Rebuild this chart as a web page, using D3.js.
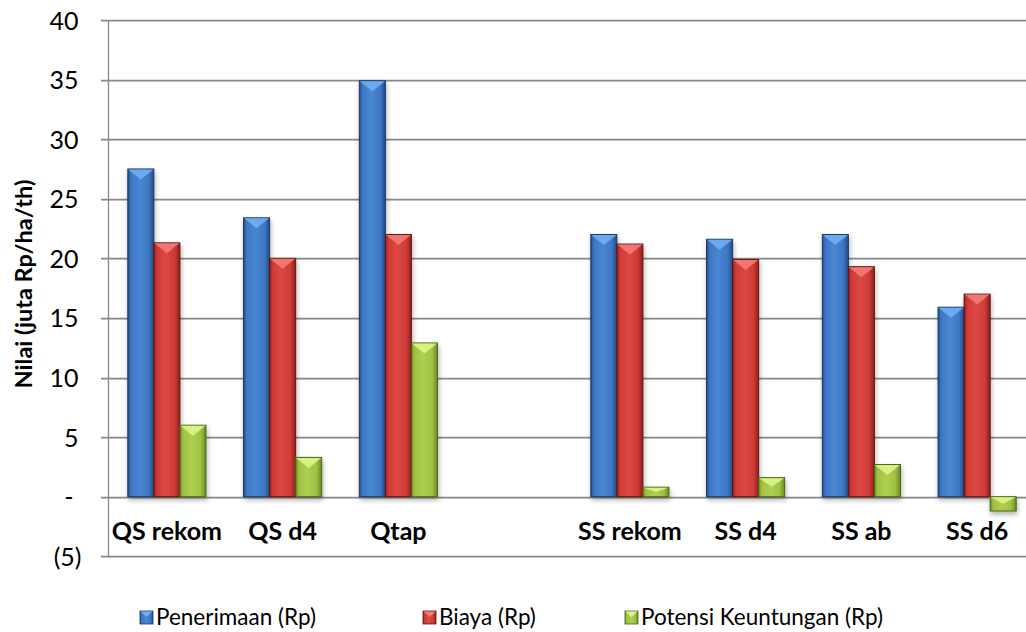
<!DOCTYPE html>
<html>
<head>
<meta charset="utf-8">
<script src="https://cdn.jsdelivr.net/npm/d3@7/dist/d3.min.js"></script>
<style>
  html, body { margin: 0; padding: 0; background: #fff; }
  svg { display: block; font-family: Lato, "Open Sans", sans-serif; }
</style>
</head>
<body>
<svg id="chart" width="1026" height="632"></svg>
<script>
// Nilai per perlakuan (juta Rp/ha/th); the empty slot separates QS and SS groups
const categories = ["QS rekom", "QS d4", "Qtap", "", "SS rekom", "SS d4", "SS ab", "SS d6"];
const penerimaan = [27.5, 23.4, 34.9, null, 22.0, 21.6, 22.0, 15.9];
const biaya      = [21.3, 20.0, 22.0, null, 21.2, 19.9, 19.3, 17.0];
const keuntungan = [6.0, 3.3, 12.9, null, 0.8, 1.6, 2.7, -1.2];
const seriesNames = ["Penerimaan (Rp)", "Biaya (Rp)", "Potensi Keuntungan (Rp)"];
const yTicks = [-5, 0, 5, 10, 15, 20, 25, 30, 35, 40];
const yTitle = "Nilai (juta Rp/ha/th)";

const seriesValues = [penerimaan, biaya, keuntungan];
const palette = [
  { edge: "#234c86", mid: "#4a86d1", light: "#3d78c4", cap: "#6fb0f4", stroke: "#1b3760" },
  { edge: "#8f1f1d", mid: "#dc4843", light: "#cf3b37", cap: "#f47a76", stroke: "#5e1412" },
  { edge: "#6a8a22", mid: "#b0cf52", light: "#9fc143", cap: "#dcf58a", stroke: "#4c6414" }
];

const svg = d3.select("#chart");
const defs = svg.append("defs");

palette.forEach((p, i) => {
  const g = defs.append("linearGradient").attr("id", "bar" + i)
    .attr("x1", "0%").attr("x2", "100%").attr("y1", "0%").attr("y2", "0%");
  [[0, p.edge], [0.12, p.light], [0.45, p.mid], [0.8, p.light], [1, p.edge]]
    .forEach(([o, c]) => g.append("stop").attr("offset", o).attr("stop-color", c));
});

const shadow = defs.append("filter").attr("id", "shadow")
  .attr("x", "-20%").attr("y", "-5%").attr("width", "140%").attr("height", "115%");
shadow.append("feDropShadow").attr("dx", 1).attr("dy", 3)
  .attr("stdDeviation", 2.5).attr("flood-color", "#000").attr("flood-opacity", 0.3);

const left = 109, right = 1035;
const x = d3.scaleBand().domain(categories.map((c, i) => i)).range([left, right]).padding(0);
const groupW = x.bandwidth() * 0.675;
const xs = d3.scaleBand().domain([0, 1, 2])
  .range([(x.bandwidth() - groupW) / 2, (x.bandwidth() + groupW) / 2]).padding(0);
const y = d3.scaleLinear().domain([-5, 40]).range([556.3, 20]);

// gridlines
const grid = svg.append("g");
grid.selectAll("line.g2").data(yTicks).join("line")
  .attr("x1", 101).attr("x2", 1026)
  .attr("y1", d => Math.round(y(d)) + 1.5).attr("y2", d => Math.round(y(d)) + 1.5)
  .attr("stroke", "#d4d4d4").attr("stroke-width", 1);
grid.selectAll("line.g1").data(yTicks).join("line")
  .attr("x1", 101).attr("x2", 1026)
  .attr("y1", d => Math.round(y(d)) + 0.5).attr("y2", d => Math.round(y(d)) + 0.5)
  .attr("stroke", "#898989").attr("stroke-width", 1.3);

// value axis
const fmt = d => d < 0 ? "(" + Math.abs(d) + ")" : d === 0 ? "-" : String(d);
const yAxis = svg.append("g").attr("transform", "translate(108.5,0)")
  .call(d3.axisLeft(y).tickValues(yTicks).tickFormat(fmt).tickSize(0).tickPadding(30));
yAxis.attr("font-size", null).attr("font-family", null);
yAxis.select(".domain").attr("stroke", "#898989").attr("stroke-width", 1.3)
  .attr("d", `M0,${y(40)}V${y(-5)}`);
yAxis.selectAll("text")
  .style("font-size", "25px").style("font-family", "Lato, sans-serif").attr("fill", "#000")
  .attr("dy", "0.36em")
  .attr("dx", d => d < 0 ? 3 : d === 0 ? -5 : 0);

// bars
const bars = svg.append("g").attr("filter", "url(#shadow)");
seriesValues.forEach((vals, s) => {
  const p = palette[s];
  const data = vals.map((v, i) => ({ i, v })).filter(d => d.v !== null);
  const g = bars.append("g");
  const bx = d => x(d.i) + xs(s);
  const bw = xs.bandwidth();
  g.selectAll("rect").data(data).join("rect")
    .attr("x", bx)
    .attr("y", d => y(Math.max(0, d.v)))
    .attr("width", bw)
    .attr("height", d => Math.abs(y(d.v) - y(0)))
    .attr("fill", `url(#bar${s})`)
    .attr("stroke", p.stroke).attr("stroke-width", 1);
  // bevelled cap at the end of each bar
  g.selectAll("path").data(data).join("path")
    .attr("d", d => {
      const top = y(Math.max(0, d.v)) + 0.5;
      const h = Math.abs(y(d.v) - y(0));
      const depth = Math.min(10, h * 0.45);
      const x0 = bx(d) + 0.5, x1 = bx(d) + bw - 0.5;
      return `M${x0},${top}L${x1},${top}L${(x0 + x1) / 2},${top + depth}Z`;
    })
    .attr("fill", p.cap).attr("opacity", 0.9);
});

// category labels
svg.append("g").selectAll("text").data(categories).join("text")
  .attr("x", (d, i) => x(i) + x.bandwidth() / 2)
  .attr("y", 540)
  .attr("text-anchor", "middle")
  .attr("font-size", 25).attr("font-weight", 700).attr("fill", "#000")
  .text(d => d);

// axis title
svg.append("text")
  .attr("transform", "translate(32,284) rotate(-90)")
  .attr("text-anchor", "middle")
  .attr("font-size", 23.5).attr("font-weight", 700).attr("fill", "#000")
  .text(yTitle);

// legend
const legendX = [140, 423, 625];
const lg = svg.append("g");
seriesNames.forEach((name, s) => {
  const p = palette[s];
  const item = lg.append("g").attr("transform", `translate(${legendX[s]},611)`);
  item.append("rect").attr("width", 13).attr("height", 13)
    .attr("fill", `url(#bar${s})`).attr("stroke", p.stroke).attr("stroke-width", 0.8);
  item.append("path").attr("d", "M0.5,0.5L12.5,0.5L6.5,6Z").attr("fill", p.cap);
  item.append("text").attr("x", 16).attr("y", 14)
    .attr("font-size", 22.5).attr("fill", "#000").text(name);
});
</script>
</body>
</html>
